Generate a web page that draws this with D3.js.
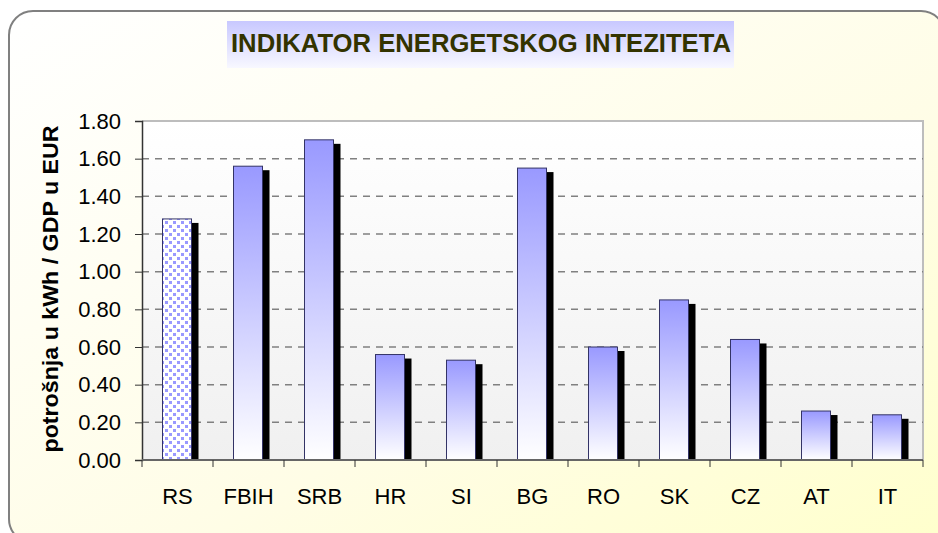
<!DOCTYPE html>
<html>
<head>
  <meta charset="utf-8">
  <title>Indikator energetskog intenziteta</title>
  <style>
   html, body { margin: 0; padding: 0; background: #fff; }
   text { font-family: Arial, "Liberation Sans", sans-serif; }
  </style>
</head>
<body>
  <div id="chart"></div>
  <script src="https://d3js.org/d3.v7.min.js"></script>
  <script>
// data
var categories = ["RS", "FBIH", "SRB", "HR", "SI", "BG", "RO", "SK", "CZ", "AT", "IT"];
var values = [1.28, 1.56, 1.70, 0.56, 0.53, 1.55, 0.60, 0.85, 0.64, 0.26, 0.24];
var yTicks = [0, 0.2, 0.4, 0.6, 0.8, 1.0, 1.2, 1.4, 1.6, 1.8];
var titleText = "INDIKATOR ENERGETSKOG INTEZITETA";
var yLabel = "potrošnja u kWh / GDP u EUR";

var width = 938, height = 533;
var plot = {left: 142, right: 923, top: 121, bottom: 460};

var svg = d3.select("#chart").append("svg")
  .attr("width", width)
  .attr("height", height);

var defs = svg.append("defs");

// page background, white to pale yellow
var bg = defs.append("linearGradient").attr("id", "bg")
  .attr("x1", "0").attr("y1", "0").attr("x2", "1").attr("y2", "1");
bg.append("stop").attr("offset", "0").attr("stop-color", "#ffffff");
bg.append("stop").attr("offset", "0.6").attr("stop-color", "#fffde6");
bg.append("stop").attr("offset", "1").attr("stop-color", "#ffffcc");

var tg = defs.append("linearGradient").attr("id", "titleGrad")
  .attr("x1", "0").attr("y1", "0").attr("x2", "0").attr("y2", "1");
tg.append("stop").attr("offset", "0").attr("stop-color", "#c8c8ff");
tg.append("stop").attr("offset", "1").attr("stop-color", "#f8f8ff");

var pg = defs.append("linearGradient").attr("id", "plotGrad")
  .attr("x1", "0").attr("y1", "0").attr("x2", "0").attr("y2", "1");
pg.append("stop").attr("offset", "0").attr("stop-color", "#ffffff");
pg.append("stop").attr("offset", "1").attr("stop-color", "#f0f0f0");

var barGrad = defs.append("linearGradient").attr("id", "barGrad")
  .attr("x1", "0").attr("y1", "0").attr("x2", "0").attr("y2", "1");
barGrad.append("stop").attr("offset", "0").attr("stop-color", "#9999ff");
barGrad.append("stop").attr("offset", "1").attr("stop-color", "#ffffff");

// dotted fill for the first bar
var pat = defs.append("pattern").attr("id", "dots")
  .attr("patternUnits", "userSpaceOnUse")
  .attr("width", 8).attr("height", 8);
pat.append("rect").attr("width", 8).attr("height", 8).attr("fill", "#ffffff");
pat.append("rect").attr("x", 1).attr("y", 1).attr("width", 3).attr("height", 3).attr("fill", "#9999ff");
pat.append("rect").attr("x", 5).attr("y", 5).attr("width", 3).attr("height", 3).attr("fill", "#9999ff");

// outer frame
svg.append("rect")
  .attr("x", 9).attr("y", 11)
  .attr("width", 936).attr("height", 532)
  .attr("rx", 24).attr("ry", 24)
  .attr("fill", "url(#bg)")
  .attr("stroke", "#808080")
  .attr("stroke-width", 2);

// title
svg.append("rect")
  .attr("x", 227).attr("y", 21)
  .attr("width", 507).attr("height", 47)
  .attr("fill", "url(#titleGrad)");
svg.append("text")
  .attr("x", 481).attr("y", 52)
  .attr("text-anchor", "middle")
  .attr("font-size", "26px")
  .attr("font-weight", "bold")
  .attr("fill", "#333300")
  .attr("textLength", 500)
  .attr("lengthAdjust", "spacingAndGlyphs")
  .text(titleText);

var x = d3.scaleBand()
  .domain(categories)
  .range([plot.left, plot.right]);

var y = d3.scaleLinear()
  .domain([0, 1.8])
  .range([plot.bottom, plot.top]);

// plot area
svg.append("rect")
  .attr("x", plot.left).attr("y", plot.top)
  .attr("width", plot.right - plot.left)
  .attr("height", plot.bottom - plot.top)
  .attr("fill", "url(#plotGrad)");
svg.append("path")
  .attr("d", "M" + plot.left + "," + plot.top + "H" + plot.right + "V" + plot.bottom)
  .attr("fill", "none")
  .attr("stroke", "#bdbdbd")
  .attr("stroke-width", 2);

// gridlines
svg.append("g").selectAll("line")
  .data(yTicks.filter(function(d) { return d > 0 && d < 1.8; }))
  .enter().append("line")
  .attr("x1", plot.left).attr("x2", plot.right)
  .attr("y1", function(d) { return y(d); })
  .attr("y2", function(d) { return y(d); })
  .attr("stroke", "#808080")
  .attr("stroke-width", 1.5)
  .attr("stroke-dasharray", "7,6");

// bars with drop shadow
var barW = 29, barOff = 20.5;
var bars = svg.append("g").selectAll("g")
  .data(values)
  .enter().append("g");

bars.append("rect")
  .attr("x", function(d, i) { return x(categories[i]) + barOff + 7; })
  .attr("y", function(d) { return y(d) + 4; })
  .attr("width", barW)
  .attr("height", function(d) { return plot.bottom - y(d) - 4; })
  .attr("fill", "#000");

bars.append("rect")
  .attr("x", function(d, i) { return x(categories[i]) + barOff; })
  .attr("y", function(d) { return y(d); })
  .attr("width", barW)
  .attr("height", function(d) { return plot.bottom - y(d); })
  .attr("fill", function(d, i) { return i === 0 ? "url(#dots)" : "url(#barGrad)"; })
  .attr("stroke", "#333366")
  .attr("stroke-width", 1);

// y axis
var yAxis = svg.append("g")
  .attr("transform", "translate(" + plot.left + ",0)")
  .call(d3.axisLeft(y).tickValues(yTicks).tickFormat(d3.format(".2f")).tickSize(7).tickPadding(14));
yAxis.select(".domain").attr("stroke", "#333").attr("stroke-width", 1.5);
yAxis.selectAll(".tick line").attr("stroke", "#333");
yAxis.selectAll("text")
  .attr("font-size", "22px")
  .attr("fill", "#000")
  .style("font-family", "Arial, 'Liberation Sans', sans-serif");

// x axis, ticks between categories
var xAxis = svg.append("g")
  .attr("transform", "translate(0," + plot.bottom + ")");
xAxis.append("line")
  .attr("x1", plot.left).attr("x2", plot.right)
  .attr("stroke", "#666").attr("stroke-width", 2);
xAxis.selectAll(".sep")
  .data(categories.concat(["end"]))
  .enter().append("line")
  .attr("class", "sep")
  .attr("x1", function(d, i) { return i < categories.length ? x(d) : plot.right; })
  .attr("x2", function(d, i) { return i < categories.length ? x(d) : plot.right; })
  .attr("y1", 0).attr("y2", 7)
  .attr("stroke", "#333");
xAxis.selectAll(".lab")
  .data(categories)
  .enter().append("text")
  .attr("class", "lab")
  .attr("x", function(d) { return x(d) + x.bandwidth() / 2; })
  .attr("y", 44)
  .attr("text-anchor", "middle")
  .attr("font-size", "22px")
  .attr("fill", "#000")
  .text(function(d) { return d; });

// y axis title
svg.append("text")
  .attr("transform", "translate(58,289) rotate(-90)")
  .attr("text-anchor", "middle")
  .attr("font-size", "22px")
  .attr("font-weight", "bold")
  .attr("fill", "#000")
  .attr("textLength", 327)
  .attr("lengthAdjust", "spacingAndGlyphs")
  .text(yLabel);
  </script>
</body>
</html>
